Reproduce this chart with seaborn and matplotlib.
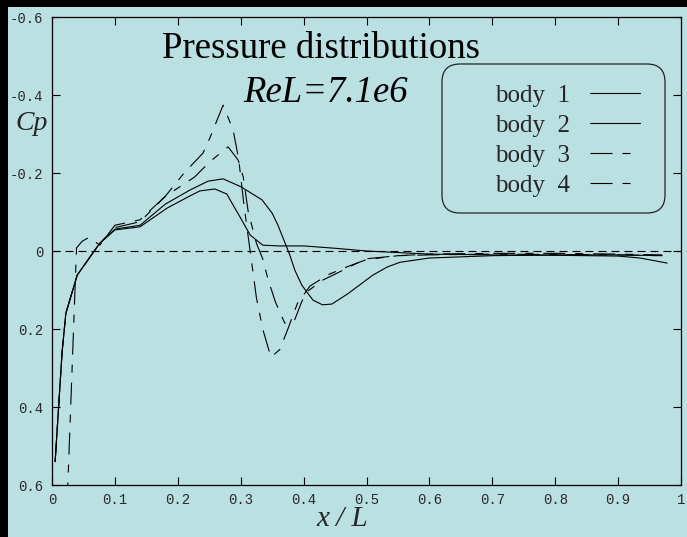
#!/usr/bin/env python3

"""
Pressure distributions (Cp vs x/L) for four bodies, ReL=7.1e6.
Writes out.png
"""

import pandas as pd
import matplotlib
matplotlib.use('Agg')
import matplotlib.pyplot as plt
import seaborn as sns
from matplotlib.patches import FancyBboxPatch, Rectangle

BG = '#bae0e2'

# --- data ---
bodies = ['body  1', 'body  2', 'body  3', 'body  4']

x_body1 = [0.005, 0.016, 0.022, 0.04, 0.076, 0.10, 0.14, 0.183, 0.219, 0.235,
           0.259, 0.278, 0.286, 0.299, 0.315, 0.335, 0.36, 0.40, 0.45, 0.50,
           0.60, 0.70, 0.80, 0.90, 0.935, 0.978]
cp_body1 = [0.54, 0.26, 0.16, 0.062, -0.02, -0.054, -0.062, -0.11, -0.141, -0.154,
            -0.159, -0.146, -0.123, -0.087, -0.041, -0.015, -0.013, -0.013, -0.007, 0.0,
            0.008, 0.01, 0.011, 0.013, 0.018, 0.031]

x_body2 = [0.005, 0.016, 0.022, 0.04, 0.076, 0.10, 0.14, 0.18, 0.219, 0.248,
           0.272, 0.30, 0.334, 0.35, 0.359, 0.378, 0.386, 0.397, 0.405, 0.415,
           0.43, 0.445, 0.47, 0.51, 0.533, 0.553, 0.60, 0.70, 0.80, 0.90, 0.97]
cp_body2 = [0.54, 0.26, 0.16, 0.062, -0.02, -0.056, -0.066, -0.12, -0.156, -0.179,
            -0.185, -0.165, -0.131, -0.097, -0.067, 0.01, 0.049, 0.087, 0.105, 0.126,
            0.138, 0.136, 0.11, 0.062, 0.041, 0.029, 0.018, 0.012, 0.01, 0.01, 0.012]

x_body3 = [0.005, 0.016, 0.022, 0.04, 0.076, 0.10, 0.14, 0.18, 0.21, 0.24,
           0.251, 0.272, 0.288, 0.297, 0.305, 0.315, 0.325, 0.335, 0.348, 0.362,
           0.375, 0.39, 0.41, 0.44, 0.47, 0.50, 0.55, 0.60, 0.70, 0.80, 0.90, 0.97]
cp_body3 = [0.54, 0.26, 0.16, 0.062, -0.02, -0.06, -0.075, -0.14, -0.2, -0.251,
            -0.29, -0.374, -0.31, -0.233, -0.12, 0.0, 0.12, 0.2, 0.272, 0.253,
            0.2, 0.135, 0.09, 0.06, 0.04, 0.022, 0.012, 0.008, 0.006, 0.006, 0.008, 0.01]

x_body4 = [0.024, 0.039, 0.048, 0.059, 0.076, 0.10, 0.14, 0.18, 0.227, 0.238,
           0.254, 0.28, 0.296, 0.304, 0.312, 0.325, 0.335, 0.343, 0.355, 0.37,
           0.385, 0.397, 0.405, 0.43, 0.453, 0.48, 0.50, 0.55, 0.60, 0.70, 0.80, 0.90, 0.97]
cp_body4 = [0.65, -0.008, -0.025, -0.035, -0.015, -0.066, -0.08, -0.14, -0.19, -0.208,
            -0.233, -0.267, -0.233, -0.19, -0.1, -0.02, 0.02, 0.07, 0.13, 0.185,
            0.18, 0.13, 0.105, 0.075, 0.057, 0.035, 0.02, 0.012, 0.01, 0.008, 0.009, 0.01, 0.012]

x_ticks = [0, 0.1, 0.2, 0.3, 0.4, 0.5, 0.6, 0.7, 0.8, 0.9, 1.0]
x_tick_labels = ['0', '0.1', '0.2', '0.3', '0.4', '0.5', '0.6', '0.7', '0.8', '0.9', '1']
y_ticks = [-0.6, -0.4, -0.2, 0, 0.2, 0.4, 0.6]
y_tick_labels = ['-0.6', '-0.4', '-0.2', '0', '0.2', '0.4', '0.6']


def px(n, lw):
    """pixels (at 100 dpi) -> dash units for a line of width lw points"""
    return n / 1.3889 / lw


def main():
    frames = []
    for name, xs, cps in zip(bodies, [x_body1, x_body2, x_body3, x_body4],
                             [cp_body1, cp_body2, cp_body3, cp_body4]):
        frames.append(pd.DataFrame({'x': xs, 'cp': cps, 'body': name}))
    df = pd.concat(frames, ignore_index=True)

    sns.set_theme(style='ticks')
    plt.rcParams['font.family'] = ['Liberation Serif', 'DejaVu Serif']
    plt.rcParams['savefig.facecolor'] = BG

    fig = plt.figure(figsize=(6.8701, 5.3701), dpi=100)
    fig.patch.set_facecolor(BG)
    # black strips along the top and left edges
    fig.add_artist(Rectangle((0, 1 - 7 / 537), 1, 7 / 537, transform=fig.transFigure,
                             facecolor='black', edgecolor='none', zorder=-5))
    fig.add_artist(Rectangle((0, 0), 8 / 687, 1, transform=fig.transFigure,
                             facecolor='black', edgecolor='none', zorder=-5))
    ax = fig.add_axes([52 / 687, 52 / 537, 629 / 687, 468 / 537])
    ax.set_facecolor(BG)

    lw = 0.8
    dash = (px(22, lw), px(10, lw), px(8, lw), px(10, lw))
    dashes = {bodies[0]: '', bodies[1]: '', bodies[2]: dash, bodies[3]: dash}

    sns.lineplot(data=df, x='x', y='cp', hue='body', style='body',
                 palette=['black'] * 4, dashes=dashes, sort=False, estimator=None,
                 linewidth=lw, ax=ax, legend=False)

    # zero line
    ax.axhline(0, color='black', linewidth=lw, linestyle=(0, (px(8, lw), px(5, lw))))

    ax.set_xlim(0, 1)
    ax.set_ylim(0.6, -0.6)
    ax.set_xticks(x_ticks)
    ax.set_xticklabels(x_tick_labels, fontfamily='Liberation Mono', fontsize=10)
    ax.set_yticks(y_ticks)
    ax.set_yticklabels(y_tick_labels, fontfamily='Liberation Mono', fontsize=10)
    ax.tick_params(direction='in', length=5.8, width=0.8, top=True, right=True,
                   pad=6, labelcolor='#2a2a2a', color='black')
    for sp in ax.spines.values():
        sp.set_color('black')
        sp.set_linewidth(0.9)

    ax.set_ylabel('Cp', rotation=0, fontsize=20, fontstyle='italic',
                  ha='center', va='center')
    ax.yaxis.set_label_coords(-0.033, 0.773)
    ax.set_xlabel('x / L', fontsize=21, fontstyle='italic', va='center')
    ax.xaxis.set_label_coords(0.461, -0.073)

    ax.text(0.175, 0.912, 'Pressure distributions', transform=ax.transAxes,
            fontsize=26.5, ha='left', va='baseline', color='black')
    ax.text(0.304, 0.818, 'ReL=7.1e6', transform=ax.transAxes, fontsize=26.5,
            fontstyle='italic', ha='left', va='baseline', color='black')

    # legend: rounded box plus frameless legend inside it
    box = FancyBboxPatch((4.42, 3.24), 2.23, 1.49,
                         boxstyle='round,pad=0,rounding_size=0.18',
                         transform=fig.dpi_scale_trans, facecolor='none',
                         edgecolor='#222222', linewidth=0.9, zorder=3)
    ax.add_patch(box)
    handles = ax.get_lines()[:4]
    ax.legend(handles, bodies, frameon=False, markerfirst=False, fontsize=18,
              handlelength=2.0, handletextpad=0.8, labelspacing=0.3,
              borderpad=0, borderaxespad=0, loc='upper right',
              bbox_to_anchor=((640 - 52) / 629, (485 - 84) / 468))

    fig.savefig('out.png', dpi=100, facecolor=BG)
    plt.close(fig)


if __name__ == "__main__":
    main()
